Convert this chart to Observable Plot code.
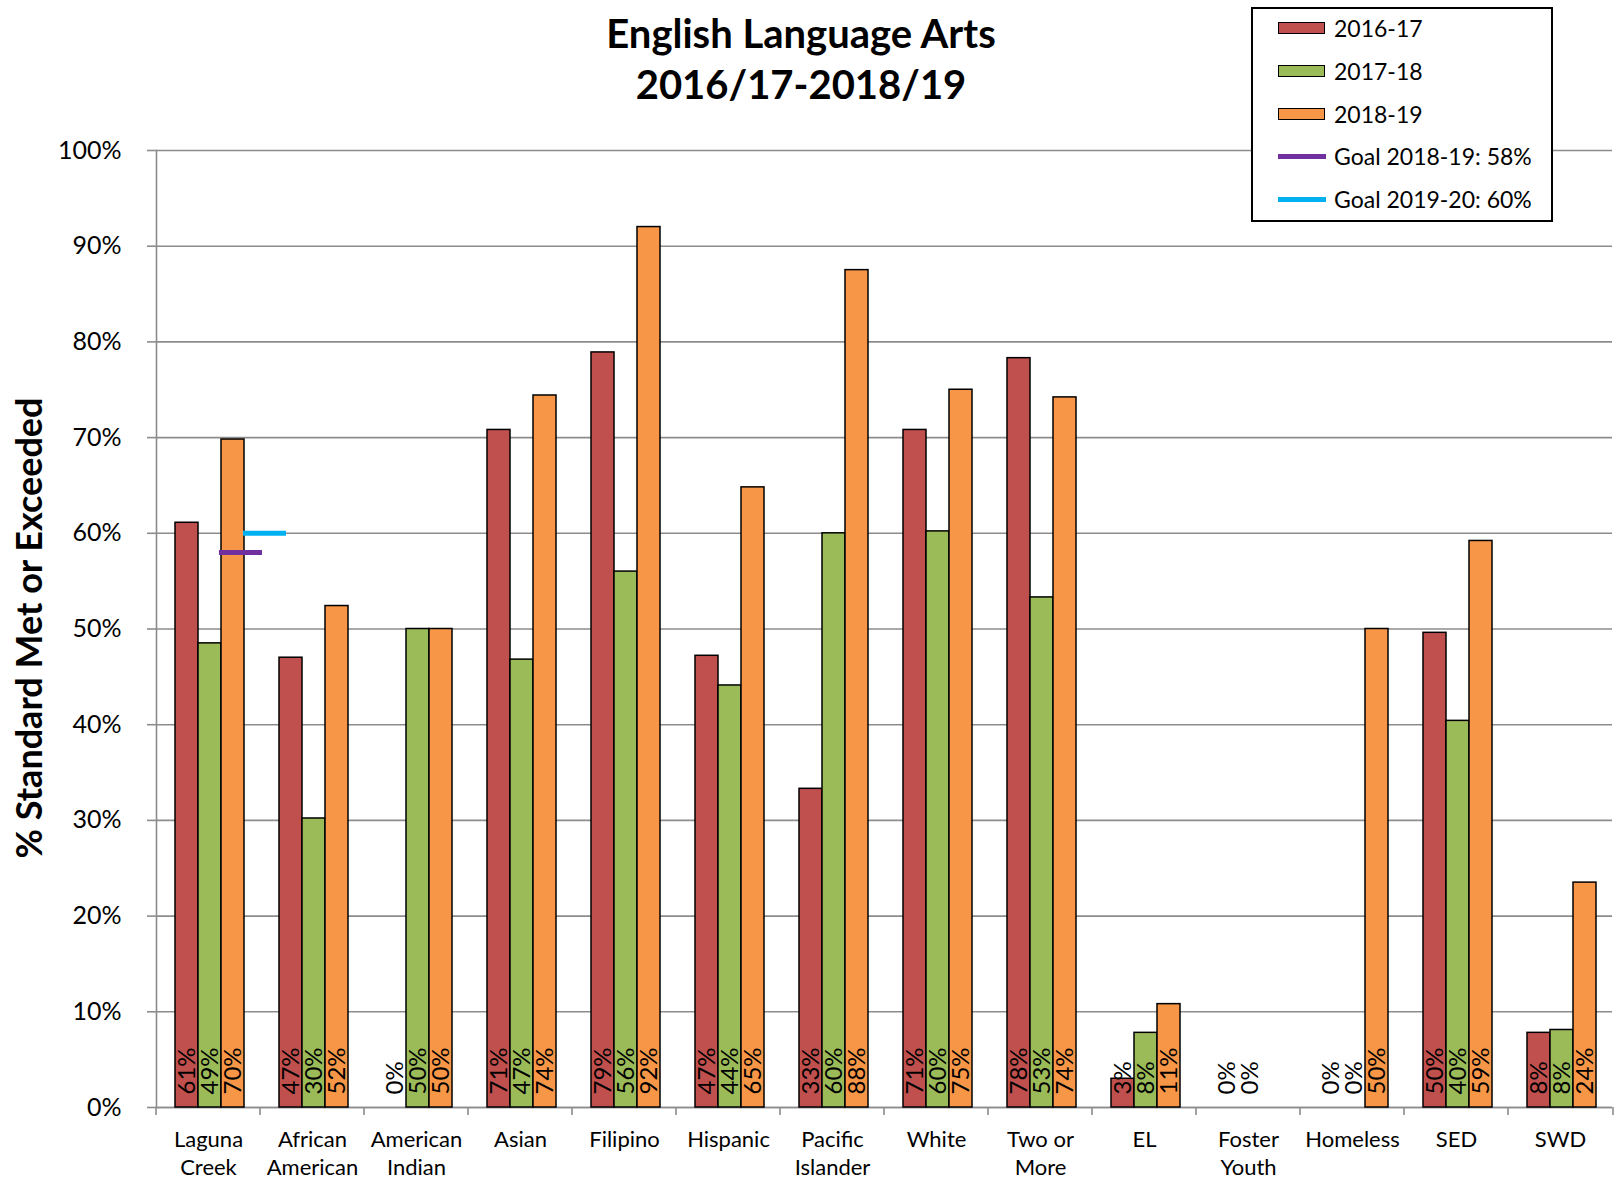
<!DOCTYPE html>
<html>
<head>
<meta charset="utf-8">
<script src="https://cdn.jsdelivr.net/npm/d3@7"></script>
<script src="https://cdn.jsdelivr.net/npm/@observablehq/plot@0.6"></script>
<style>
  body { margin: 0; background: #fff; font-family: Lato, "Liberation Sans", sans-serif; }
  #wrap { position: relative; width: 1621px; height: 1183px; overflow: hidden; background: #fff; }
  #chart { position: absolute; left: 0; top: 0; }
  #title { position: absolute; left: 0; top: 8px; width: 1602px; text-align: center; font-weight: bold; font-size: 40px; line-height: 51px; color: #000; }
  #ytitle { position: absolute; left: 28px; top: 628px; transform: translate(-50%, -50%) rotate(-90deg); white-space: nowrap; font-weight: bold; font-size: 36px; color: #000; }
  #legend { position: absolute; left: 1251px; top: 7px; width: 298px; height: 211px; border: 2px solid #000; background: #fff; }
  .row { position: absolute; left: 0; height: 30px; line-height: 30px; font-size: 23px; color: #000; white-space: nowrap; }
  .sw { position: absolute; left: 25px; width: 45px; height: 10px; top: 9px; border: 1.5px solid #000; }
  .ln { position: absolute; left: 25px; width: 48px; height: 5px; top: 13px; }
  .lt { position: absolute; left: 81px; top: 0; }
</style>
</head>
<body>
<div id="wrap">
  <div id="chart"></div>
  <div id="title"></div>
  <div id="ytitle"></div>
  <div id="legend"></div>
</div>
<script>
// ---- data ----
const titleLines = ["English Language Arts", "2016/17-2018/19"];
const yTitle = "% Standard Met or Exceeded";
const categories = ["Laguna Creek", "African American", "American Indian", "Asian", "Filipino", "Hispanic", "Pacific Islander", "White", "Two or More", "EL", "Foster Youth", "Homeless", "SED", "SWD"];
const categoryLabels = ["Laguna\nCreek", "African\nAmerican", "American\nIndian", "Asian", "Filipino", "Hispanic", "Pacific\nIslander", "White", "Two or\nMore", "EL", "Foster\nYouth", "Homeless", "SED", "SWD"];
const years = ["2016-17", "2017-18", "2018-19"];
const values2016_17 = [61.1, 47.0, 0, 70.8, 78.9, 47.2, 33.3, 70.8, 78.3, 3.0, 0, 0, 49.6, 7.8];
const values2017_18 = [48.5, 30.2, 50.0, 46.8, 56.0, 44.1, 60.0, 60.2, 53.3, 7.8, 0, 0, 40.4, 8.1];
const values2018_19 = [69.8, 52.4, 50.0, 74.4, 92.0, 64.8, 87.5, 75.0, 74.2, 10.8, null, 50.0, 59.2, 23.5];
const yearColors = ["#C0504D", "#9BBB59", "#F79646"];
const goalLabels = ["Goal 2018-19: 58%", "Goal 2019-20: 60%"];
const goalValues = [58, 60];
const goalColors = ["#7030A0", "#00B0F0"];
const goalCategory = "Laguna Creek";
const yTickValues = [0, 10, 20, 30, 40, 50, 60, 70, 80, 90, 100];
const yTickLabels = ["0%", "10%", "20%", "30%", "40%", "50%", "60%", "70%", "80%", "90%", "100%"];

// ---- build tables ----
const series = [values2016_17, values2017_18, values2018_19];
const rows = categories.flatMap((c, i) => years.map((y, j) => ({category: c, year: y, value: series[j][i]})));
const barRows = rows.filter(d => d.value != null && d.value > 0);
const labelRows = rows.filter(d => d.value != null);
const goals = goalValues.map((v, i) => ({value: v, label: goalLabels[i], color: goalColors[i], category: goalCategory}));
const labelOf = new Map(categories.map((c, i) => [c, categoryLabels[i]]));
const tickLabelOf = new Map(yTickValues.map((v, i) => [v, yTickLabels[i]]));

// ---- layout ----
const W = 1621, H = 1183, mL = 149, mR = 3, mT = 150, mB = 76;
const facetW = (W - mL - mR) / categories.length;
const gridColor = "#8c8c8c";

const chart = Plot.plot({
  width: W, height: H,
  marginLeft: mL, marginRight: mR, marginTop: mT, marginBottom: mB,
  style: {fontFamily: "Lato, 'Liberation Sans', sans-serif", fontSize: "24px", color: "#000", background: "transparent", overflow: "visible"},
  fx: {domain: categories, padding: 0, label: null},
  x: {domain: years, paddingInner: 0, paddingOuter: 0.75, align: 0.54, axis: null},
  y: {domain: [0, 100], label: null},
  color: {domain: years, range: yearColors},
  marks: [
    Plot.gridY(yTickValues, {stroke: gridColor, strokeOpacity: 1, strokeWidth: 1.6}),
    Plot.frame({anchor: "left", facetAnchor: "left", stroke: gridColor, strokeWidth: 1.6}),
    Plot.ruleY([0], {stroke: gridColor, strokeWidth: 1.6}),
    Plot.ruleX(categories, {fx: d => d, x: null, y1: 0, y2: 0, insetBottom: -8, dx: -facetW / 2, stroke: gridColor, strokeWidth: 1.6}),
    Plot.ruleX(categories.slice(-1), {fx: d => d, x: null, y1: 0, y2: 0, insetBottom: -8, dx: facetW / 2, stroke: gridColor, strokeWidth: 1.6}),
    Plot.axisY(yTickValues, {tickFormat: d => tickLabelOf.get(d), tickSize: 9, tickPadding: 26, stroke: gridColor, strokeWidth: 1.6, fontSize: 25, fill: "#000", label: null}),
    Plot.axisFx({anchor: "bottom", tickSize: 0, tickPadding: 19, fontSize: 22, lineHeight: 1.3, tickFormat: d => labelOf.get(d), label: null, fill: "#000"}),
    Plot.barY(barRows, {fx: "category", x: "year", y: "value", fill: "year", stroke: "#000", strokeWidth: 1.5}),
    Plot.ruleY(goals.slice(0, 1), {fx: "category", y: "value", x1: () => years[2], x2: () => years[2], stroke: "color", strokeWidth: 5, insetLeft: -2, insetRight: -18}),
    Plot.ruleY(goals.slice(1), {fx: "category", y: "value", x1: () => years[2], x2: () => years[2], stroke: "color", strokeWidth: 5, insetLeft: 22, insetRight: -42}),
    Plot.text(labelRows, {fx: "category", x: "year", y: 0, text: d => Math.round(d.value) + "%", rotate: -90, textAnchor: "start", lineAnchor: "middle", dy: -13, fontSize: 24, fill: "#000"})
  ]
});
document.getElementById("chart").appendChild(chart);

// ---- title, axis title, legend ----
document.getElementById("title").innerHTML = titleLines.join("<br>");
document.getElementById("ytitle").textContent = yTitle;
const legend = document.getElementById("legend");
const legendItems = [
  ...years.map((y, i) => ({label: y, color: yearColors[i], kind: "sw"})),
  ...goalLabels.map((g, i) => ({label: g, color: goalColors[i], kind: "ln"}))
];
legendItems.forEach((it, i) => {
  const row = document.createElement("div");
  row.className = "row";
  row.style.top = (4 + i * 42.8) + "px";
  row.style.width = "100%";
  const mark = document.createElement("div");
  mark.className = it.kind;
  mark.style.background = it.color;
  const t = document.createElement("div");
  t.className = "lt";
  t.textContent = it.label;
  row.appendChild(mark);
  row.appendChild(t);
  legend.appendChild(row);
});
</script>
</body>
</html>
